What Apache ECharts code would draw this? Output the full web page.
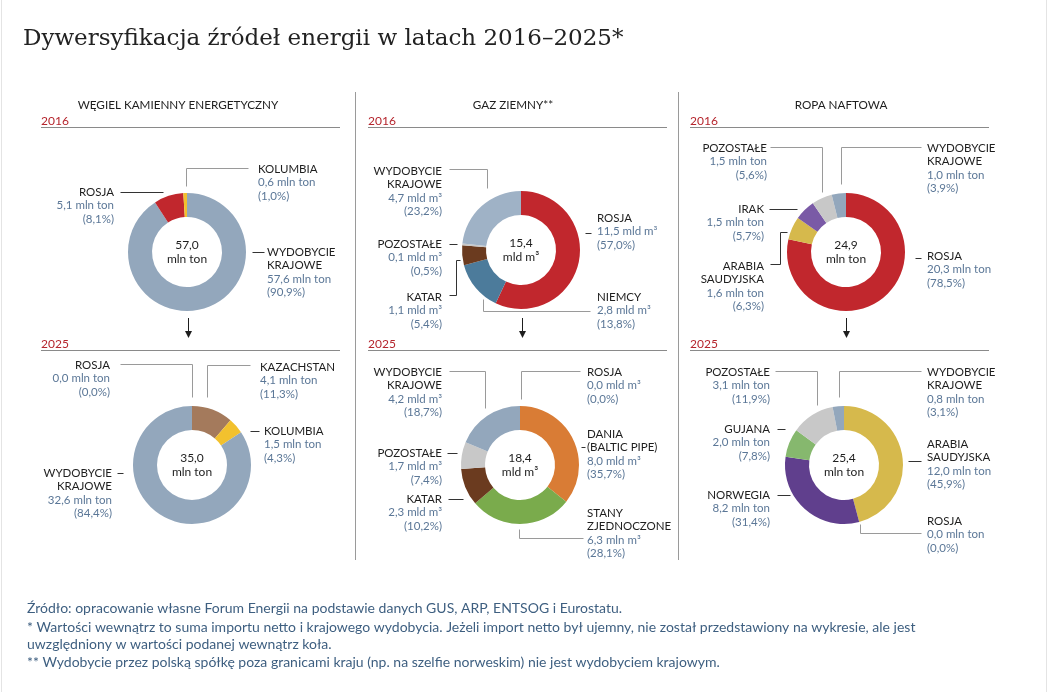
<!DOCTYPE html>
<html>
<head>
<meta charset="utf-8">
<script src="https://cdn.jsdelivr.net/npm/echarts@6/dist/echarts.min.js"></script>
<style>
html,body{margin:0;padding:0;background:#fff;}
#chart{width:1051px;height:692px;}
</style>
</head>
<body>
<div id="chart"></div>
<script>
// ---------------- DATA ----------------
const chartTitle = 'Dywersyfikacja źródeł energii w latach 2016–2025*';
const panelTitles = ['WĘGIEL KAMIENNY ENERGETYCZNY', 'GAZ ZIEMNY**', 'ROPA NAFTOWA'];
const years = ['2016', '2025'];

// Coal (mln ton)
const coal2016Names   = ['WYDOBYCIE\nKRAJOWE', 'ROSJA', 'KOLUMBIA'];
const coal2016Amounts = [57.6, 5.1, 0.6];
const coal2016Shares  = [90.9, 8.1, 1.0];
const coal2016Total   = 57.0;

const coal2025Names   = ['KAZACHSTAN', 'KOLUMBIA', 'WYDOBYCIE\nKRAJOWE', 'ROSJA'];
const coal2025Amounts = [4.1, 1.5, 32.6, 0.0];
const coal2025Shares  = [11.3, 4.3, 84.4, 0.0];
const coal2025Total   = 35.0;

// Gas (mld m³)
const gas2016Names   = ['ROSJA', 'NIEMCY', 'KATAR', 'POZOSTAŁE', 'WYDOBYCIE\nKRAJOWE'];
const gas2016Amounts = [11.5, 2.8, 1.1, 0.1, 4.7];
const gas2016Shares  = [57.0, 13.8, 5.4, 0.5, 23.2];
const gas2016Total   = 15.4;

const gas2025Names   = ['DANIA\n(BALTIC PIPE)', 'STANY\nZJEDNOCZONE', 'KATAR', 'POZOSTAŁE', 'WYDOBYCIE\nKRAJOWE', 'ROSJA'];
const gas2025Amounts = [8.0, 6.3, 2.3, 1.7, 4.2, 0.0];
const gas2025Shares  = [35.7, 28.1, 10.2, 7.4, 18.7, 0.0];
const gas2025Units   = ['mld m³', 'mln m³', 'mld m³', 'mld m³', 'mld m³', 'mld m³'];
const gas2025Total   = 18.4;

// Oil (mln ton)
const oil2016Names   = ['ROSJA', 'ARABIA\nSAUDYJSKA', 'IRAK', 'POZOSTAŁE', 'WYDOBYCIE\nKRAJOWE'];
const oil2016Amounts = [20.3, 1.6, 1.5, 1.5, 1.0];
const oil2016Shares  = [78.5, 6.3, 5.7, 5.6, 3.9];
const oil2016Total   = 24.9;

const oil2025Names   = ['ARABIA\nSAUDYJSKA', 'ROSJA', 'NORWEGIA', 'GUJANA', 'POZOSTAŁE', 'WYDOBYCIE\nKRAJOWE'];
const oil2025Amounts = [12.0, 0.0, 8.2, 2.0, 3.1, 0.8];
const oil2025Shares  = [45.9, 0.0, 31.4, 7.8, 11.9, 3.1];
const oil2025Total   = 25.4;

const footnotes = [
  'Źródło: opracowanie własne Forum Energii na podstawie danych GUS, ARP, ENTSOG i Eurostatu.',
  '* Wartości wewnątrz to suma importu netto i krajowego wydobycia. Jeżeli import netto był ujemny, nie został przedstawiony na wykresie, ale jest',
  'uwzględniony w wartości podanej wewnątrz koła.',
  '** Wydobycie przez polską spółkę poza granicami kraju (np. na szelfie norweskim) nie jest wydobyciem krajowym.'
];

// ---------------- STYLES ----------------
const C_DOM = '#93a7bc', C_RU = '#c1272d', C_COL = '#f2c12e', C_KZ = '#a47a5c';
const C_DE = '#4c7b9b', C_QA = '#6b3b1f', C_OTH = '#c8c8c8', C_DK = '#d97c35', C_US = '#7aab4c';
const C_SA = '#d6b94c', C_IQ = '#7a5aa6', C_NO = '#603f8d', C_GY = '#86b86e';

const coal2016Colors = [C_DOM, C_RU, C_COL];
const coal2025Colors = [C_KZ, C_COL, C_DOM, C_RU];
const gas2016Colors  = [C_RU, C_DE, C_QA, C_OTH, '#9fb2c6'];
const gas2025Colors  = [C_DK, C_US, C_QA, C_OTH, C_DOM, C_RU];
const oil2016Colors  = [C_RU, C_SA, C_IQ, C_OTH, C_DOM];
const oil2025Colors  = [C_SA, C_RU, C_NO, C_GY, C_OTH, C_DOM];

// ---------------- LAYOUT (offsets from donut centre) ----------------
// dx,dy: anchor of label (first line centre); a: text align; p: leader line points; d: dark line
const coal2016Layout = [
  {dx:80, dy:0, a:'left', d:true, p:[[65,0],[77,0]]},
  {dx:-73, dy:-60, a:'right', d:true, p:[[-67,-60],[-24,-60]]},
  {dx:71, dy:-83, a:'left', d:false, p:[[-1,-66],[-1,-84],[61,-84]]}
];
const coal2025Layout = [
  {dx:68, dy:-98, a:'left', d:false, p:[[15,-68],[15,-100],[58,-100]]},
  {dx:72, dy:-34, a:'left', d:true, p:[[58,-34],[67,-34]]},
  {dx:-80, dy:8, a:'right', d:true, p:[[-75,8],[-69,8]]},
  {dx:-82, dy:-100, a:'right', d:false, p:[[0,-68],[0,-101],[-72,-101]]}
];
const gas2016Layout = [
  {dx:76, dy:-32, a:'left', d:true, p:[[64,-17],[70,-17]]},
  {dx:76, dy:47, a:'left', d:false, p:[[-38,49],[-38,61],[69,61]]},
  {dx:-79, dy:47, a:'right', d:true, p:[[-72,45],[-65,45],[-65,10],[-61,10]]},
  {dx:-79, dy:-6, a:'right', d:true, p:[[-72,-6],[-64,-6]]},
  {dx:-79, dy:-79, a:'right', d:false, p:[[-34,-62],[-34,-81],[-72,-81]]}
];
const gas2025Layout = [
  {dx:67, dy:-31, a:'left', d:true, p:[[61,-18],[65,-18]]},
  {dx:67, dy:48, a:'left', d:false, p:[[-1,64],[-1,73],[63,73]]},
  {dx:-78, dy:34, a:'right', d:true, p:[[-72,34],[-57,34]]},
  {dx:-78, dy:-12, a:'right', d:true, p:[[-73,-12],[-63,-12]]},
  {dx:-78, dy:-93, a:'right', d:false, p:[[-35,-57],[-35,-94],[-71,-94]]},
  {dx:67, dy:-93, a:'left', d:false, p:[[1,-66],[1,-94],[60,-94]]}
];
const oil2016Layout = [
  {dx:81, dy:4, a:'left', d:true, p:[[69,6],[75,6]]},
  {dx:-82, dy:14, a:'right', d:true, p:[[-76,12],[-66,12],[-66,-20],[-59,-20]]},
  {dx:-82, dy:-43, a:'right', d:true, p:[[-77,-43],[-49,-43]]},
  {dx:-79, dy:-104, a:'right', d:false, p:[[-24,-60],[-24,-105],[-76,-105]]},
  {dx:81, dy:-104, a:'left', d:false, p:[[-5,-68],[-5,-105],[75,-105]]}
];
const oil2025Layout = [
  {dx:83, dy:-21, a:'left', d:true, p:[[64,-4],[77,-4]]},
  {dx:83, dy:56, a:'left', d:false, p:[[16,59],[16,68],[77,68]]},
  {dx:-74, dy:30, a:'right', d:true, p:[[-67,30],[-54,30]]},
  {dx:-74, dy:-36, a:'right', d:true, p:[[-67,-36],[-59,-36]]},
  {dx:-74, dy:-93, a:'right', d:false, p:[[-27,-60],[-27,-94],[-69,-94]]},
  {dx:83, dy:-93, a:'left', d:false, p:[[-5,-68],[-5,-94],[77,-94]]}
];

const FONT = 'Lato, "Noto Sans", sans-serif';
const LH = 13.5;
const R_IN = 35, R_OUT = 59;

function fmt(v) { return v.toFixed(1).replace('.', ','); }

function labelText(name, amount, unit, share) {
  const nameLines = name.split('\n').map(s => '{n|' + s + '}').join('\n');
  return nameLines + '\n{v|' + fmt(amount) + ' ' + unit + '}\n{v|(' + fmt(share) + '%)}';
}

function donut(cx, cy, names, amounts, shares, units, colors, layout) {
  const data = names.map((n, i) => ({
    name: n.replace('\n', ' '),
    value: shares[i],
    itemStyle: {color: colors[i]},
    label: {formatter: labelText(n, amounts[i], Array.isArray(units) ? units[i] : units, shares[i])},
    labelLine: {lineStyle: {color: layout[i].d ? '#333333' : '#9a9a9a', width: 1}}
  }));
  return {
    type: 'pie',
    center: [cx, cy],
    radius: [R_IN, R_OUT],
    startAngle: 90,
    clockwise: true,
    avoidLabelOverlap: false,
    silent: true,
    emphasis: {scale: false},
    itemStyle: {borderWidth: 0},
    label: {
      show: true,
      position: 'outside',
      fontFamily: FONT,
      rich: {
        n: {fontFamily: FONT, fontSize: 11.5, color: '#1e1e1e', lineHeight: LH},
        v: {fontFamily: FONT, fontSize: 11.5, color: '#5b7797', lineHeight: LH}
      }
    },
    labelLine: {show: true, length: 4, length2: 4, smooth: false},
    labelLayout: function (params) {
      const L = layout[params.dataIndex];
      return {
        x: cx + L.dx,
        y: cy + L.dy - LH / 2,
        align: L.a,
        verticalAlign: 'top',
        labelLinePoints: L.p.map(q => [cx + q[0] + 0.5, cy + q[1] + 0.5])
      };
    },
    data: data
  };
}

// donut centres
const centres = {
  coal2016: [187, 252], coal2025: [192, 465],
  gas2016: [521, 250], gas2025: [520, 465],
  oil2016: [846, 252], oil2025: [844, 465]
};

const series = [
  donut(...centres.coal2016, coal2016Names, coal2016Amounts, coal2016Shares, 'mln ton', coal2016Colors, coal2016Layout),
  donut(...centres.coal2025, coal2025Names, coal2025Amounts, coal2025Shares, 'mln ton', coal2025Colors, coal2025Layout),
  donut(...centres.gas2016, gas2016Names, gas2016Amounts, gas2016Shares, 'mld m³', gas2016Colors, gas2016Layout),
  donut(...centres.gas2025, gas2025Names, gas2025Amounts, gas2025Shares, gas2025Units, gas2025Colors, gas2025Layout),
  donut(...centres.oil2016, oil2016Names, oil2016Amounts, oil2016Shares, 'mln ton', oil2016Colors, oil2016Layout),
  donut(...centres.oil2025, oil2025Names, oil2025Amounts, oil2025Shares, 'mln ton', oil2025Colors, oil2025Layout)
];

// ---------------- GRAPHIC ANNOTATIONS ----------------
const g = [];
function txt(x, y, text, opt) {
  g.push({type: 'text', silent: true, style: Object.assign({x: x, y: y, text: text, fill: '#1e1e1e',
    fontFamily: FONT, fontSize: 12, align: 'left', verticalAlign: 'middle'}, opt || {})});
}
function line(x1, y1, x2, y2, color) {
  g.push({type: 'line', silent: true, shape: {x1: x1, y1: y1, x2: x2, y2: y2}, style: {stroke: color || '#9a9a9a', lineWidth: 1}});
}

// title
txt(23, 39, chartTitle, {fontFamily: '"DejaVu Serif", "Liberation Serif", serif', fontSize: 23, fill: '#222222'});

// panels
const panelX = [41, 368, 690];
const panelW = [299, 299, 299];
const headerCx = [178, 513, 841];
const arrowX = [188, 522, 846];
panelTitles.forEach((t, i) => {
  txt(headerCx[i], 105, t, {align: 'center', fontSize: 11.7});
  years.forEach((yr, j) => {
    const yy = j === 0 ? 121.5 : 344.5;
    txt(panelX[i], yy, yr, {fill: '#b5252d', fontSize: 12});
    line(panelX[i], yy + 6, panelX[i] + panelW[i], yy + 6, '#8a8a8a');
  });
  // arrow
  line(arrowX[i] + 0.5, 318, arrowX[i] + 0.5, 332, '#1e1e1e');
  g.push({type: 'polygon', silent: true, shape: {points: [[arrowX[i] - 3, 331], [arrowX[i] + 4, 331], [arrowX[i] + 0.5, 338]]}, style: {fill: '#1e1e1e'}});
});
// separators
line(355.5, 92, 355.5, 560, '#9a9a9a');
line(678.5, 92, 678.5, 560, '#9a9a9a');
// faint page borders
line(1.5, 0, 1.5, 692, '#e4e4e4');
line(1046.5, 0, 1046.5, 692, '#e4e4e4');

// centre values
const centreTexts = [
  [centres.coal2016, coal2016Total, 'mln ton'],
  [centres.coal2025, coal2025Total, 'mln ton'],
  [centres.gas2016, gas2016Total, 'mld m³'],
  [centres.gas2025, gas2025Total, 'mld m³'],
  [centres.oil2016, oil2016Total, 'mln ton'],
  [centres.oil2025, oil2025Total, 'mln ton']
];
centreTexts.forEach(c => {
  txt(c[0][0], c[0][1], fmt(c[1]) + '\n' + c[2], {align: 'center', fontSize: 12, lineHeight: 14});
});

// footnotes
const footY = [608, 627, 644.5, 662];
footnotes.forEach((f, i) => txt(27, footY[i], f, {fill: '#3e5f80', fontSize: 14}));

const chart = echarts.init(document.getElementById('chart'), null, {renderer: 'canvas'});
chart.setOption({
  animation: false,
  backgroundColor: '#ffffff',
  series: series,
  graphic: g
});
</script>
</body>
</html>
